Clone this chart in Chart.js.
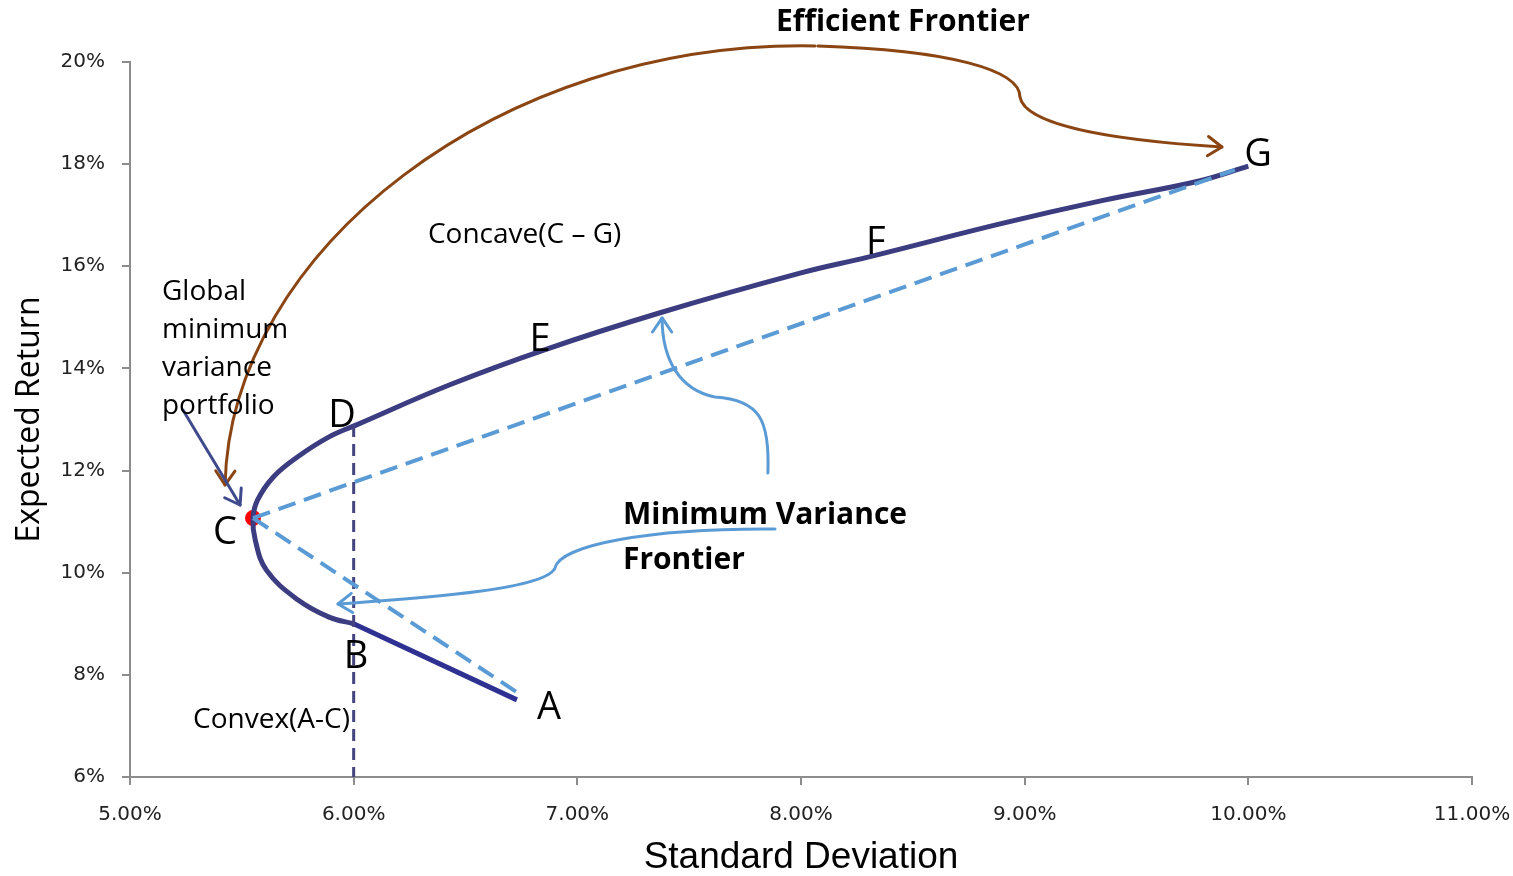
<!DOCTYPE html>
<html>
<head>
<meta charset="utf-8">
<script src="https://cdn.jsdelivr.net/npm/chart.js@4"></script>
<style>
  body { margin: 0; background: #fff; }
  canvas { display: block; }
</style>
</head>
<body>
<canvas id="grafico" width="1513" height="876"></canvas>
<script>
// frontier B -> C -> G (std dev %, expected return %)
const frontierX = [6.00, 5.89, 5.75, 5.61, 5.56, 5.55, 5.57, 5.64, 5.75, 5.89, 6.01, 6.43, 6.85, 7.37, 8.00, 8.30, 8.89, 9.34, 9.78, 10.00];
const frontierY = [9.00, 9.13, 9.47, 10.05, 10.64, 11.07, 11.42, 11.87, 12.27, 12.66, 12.89, 13.68, 14.36, 15.09, 15.87, 16.18, 16.83, 17.28, 17.67, 17.96];

// straight piece A -> B
const lineABx = [6.73, 6.00];
const lineABy = [7.51, 9.00];

// dashed chords from C
const chordCGx = [5.55, 9.94];
const chordCGy = [11.07, 17.89];
const chordCAx = [5.55, 6.73];
const chordCAy = [11.07, 7.66];

// vertical dashed line at 6%
const vertX = [6.00, 6.00];
const vertY = [12.89, 6.00];

// global minimum variance portfolio
const gmvX = [5.55];
const gmvY = [11.07];

const xTicks = ["5.00%", "6.00%", "7.00%", "8.00%", "9.00%", "10.00%", "11.00%"];
const yTicks = ["6%", "8%", "10%", "12%", "14%", "16%", "18%", "20%"];

// point letters
const letterNames = ["A", "B", "C", "D", "E", "F", "G"];
const letterX = [6.873, 6.010, 5.425, 5.948, 6.833, 8.335, 10.043];
const letterY = [7.351, 8.350, 10.778, 13.069, 14.557, 16.456, 18.179];

const pts = (xs, ys) => xs.map((v, i) => ({ x: v, y: ys[i] }));

// annotation arrows (bezier segments in data units)
const brownLeft = [[[8.063, 20.314], [6.654, 20.431], [5.447, 16.319], [5.425, 11.718]]];
const brownRight = [
  [[8.076, 20.314], [8.666, 20.235], [8.979, 19.844], [8.979, 19.315]],
  [[8.979, 19.315], [9.001, 18.767], [9.381, 18.473], [9.882, 18.336]]
];
const blueUp = [
  [[7.852, 11.953], [7.861, 12.990], [7.817, 13.382], [7.615, 13.441]],
  [[7.615, 13.441], [7.459, 13.578], [7.379, 14.165], [7.379, 14.988]]
];
const blueLeft = [
  [[7.884, 10.856], [7.325, 10.876], [6.922, 10.543], [6.900, 10.092]],
  [[6.900, 10.092], [6.855, 9.662], [6.297, 9.505], [5.930, 9.387]]
];
const navyArrow = [[[5.237, 13.186], [5.30, 12.72], [5.43, 11.79], [5.492, 11.326]]];

const anotacoes = {
  id: "anotacoes",
  afterDatasetsDraw(chart) {
    const { ctx } = chart;
    const sx = chart.scales.x, sy = chart.scales.y;
    const P = p => [sx.getPixelForValue(p[0]), sy.getPixelForValue(p[1])];

    function arrow(segs, color, width) {
      ctx.save();
      ctx.strokeStyle = color;
      ctx.lineWidth = width;
      ctx.lineCap = "round";
      ctx.lineJoin = "round";
      ctx.beginPath();
      segs.forEach((s, i) => {
        const a = P(s[0]), b = P(s[1]), c = P(s[2]), d = P(s[3]);
        if (i === 0) ctx.moveTo(a[0], a[1]);
        ctx.bezierCurveTo(b[0], b[1], c[0], c[1], d[0], d[1]);
      });
      ctx.stroke();
      const last = segs[segs.length - 1];
      const e = P(last[3]), c = P(last[2]);
      const ang = Math.atan2(e[1] - c[1], e[0] - c[0]);
      const len = 17, spread = 0.6;
      ctx.beginPath();
      ctx.moveTo(e[0] - len * Math.cos(ang - spread), e[1] - len * Math.sin(ang - spread));
      ctx.lineTo(e[0], e[1]);
      ctx.lineTo(e[0] - len * Math.cos(ang + spread), e[1] - len * Math.sin(ang + spread));
      ctx.stroke();
      ctx.restore();
    }

    arrow(brownLeft, "#8a4513", 3);
    arrow(brownRight, "#8a4513", 3);
    arrow(blueUp, "#5b9bd5", 3);
    arrow(blueLeft, "#5b9bd5", 3);
    arrow(navyArrow, "#3f4a8c", 3);

    ctx.save();
    ctx.fillStyle = "#000";
    ctx.textBaseline = "middle";

    ctx.textAlign = "center";
    ctx.font = "38px 'Open Sans'";
    letterNames.forEach((t, i) => {
      const p = P([letterX[i], letterY[i]]);
      ctx.fillText(t, p[0], p[1]);
    });

    ctx.textAlign = "left";
    ctx.font = "28px 'Open Sans'";
    const g = P([5.143, 15.497]);
    ["Global", "minimum", "variance", "portfolio"].forEach((t, i) => ctx.fillText(t, g[0], g[1] + i * 38));
    let p = P([6.332, 16.613]);
    ctx.fillText("Concave(C \u2013 G)", p[0], p[1]);
    p = P([5.282, 7.116]);
    ctx.fillText("Convex(A-C)", p[0], p[1]);

    ctx.font = "bold 30px 'Open Sans'";
    p = P([7.888, 20.783]);
    ctx.fillText("Efficient Frontier", p[0], p[1]);
    p = P([7.204, 11.130]);
    ctx.fillText("Minimum Variance", p[0], p[1]);
    p = P([7.204, 10.249]);
    ctx.fillText("Frontier", p[0], p[1]);
    ctx.restore();
  }
};

const tickFont = { family: "'DejaVu Sans'", size: 20 };
const axisCor = "#8c8c8c";

new Chart(document.getElementById("grafico"), {
  type: "scatter",
  data: {
    datasets: [
      { data: pts(chordCGx, chordCGy), showLine: true, borderColor: "#5b9bd5", borderWidth: 4, borderDash: [18, 9], pointRadius: 0 },
      { data: pts(chordCAx, chordCAy), showLine: true, borderColor: "#5b9bd5", borderWidth: 4, borderDash: [18, 9], pointRadius: 0 },
      { data: pts(vertX, vertY), showLine: true, borderColor: "#44447e", borderWidth: 3, borderDash: [12, 7], pointRadius: 0 },
      { data: pts(lineABx, lineABy), showLine: true, borderColor: "#2e3192", borderWidth: 5, pointRadius: 0 },
      { data: pts(frontierX, frontierY), showLine: true, tension: 0.4, borderColor: "#3b3d80", borderWidth: 5, pointRadius: 0 },
      { data: pts(gmvX, gmvY), pointRadius: 8, pointBackgroundColor: "#ff0000", pointBorderWidth: 0, borderColor: "#ff0000" }
    ]
  },
  options: {
    responsive: false,
    animation: false,
    layout: { padding: { top: 62, right: 41, left: 0, bottom: 0 } },
    plugins: { legend: { display: false }, tooltip: { enabled: false } },
    scales: {
      x: {
        type: "linear", min: 5, max: 11,
        ticks: { stepSize: 1, font: tickFont, color: "#222", padding: 18, callback: (v, i) => xTicks[i] },
        grid: { drawOnChartArea: false, tickLength: 8, color: axisCor, lineWidth: 2 },
        border: { color: axisCor, width: 2 },
        title: { display: true, text: "Standard Deviation", color: "#000", font: { family: "'Liberation Sans'", size: 37, lineHeight: 1 }, padding: { top: 0, bottom: 0 } },
        afterFit: s => { s.height = 99; s.paddingLeft = 0; s.paddingRight = 0; }
      },
      y: {
        type: "linear", min: 6, max: 20,
        ticks: { stepSize: 2, font: tickFont, color: "#222", padding: 17, callback: (v, i) => yTicks[i] },
        grid: { drawOnChartArea: false, tickLength: 8, color: axisCor, lineWidth: 2 },
        border: { color: axisCor, width: 2 },
        title: { display: true, text: "Expected Return", color: "#000", font: { family: "'Open Sans'", size: 32, lineHeight: 1 }, padding: { top: 14, bottom: 0 } },
        afterFit: s => { s.width = 130; }
      }
    }
  },
  plugins: [anotacoes]
});
</script>
</body>
</html>
